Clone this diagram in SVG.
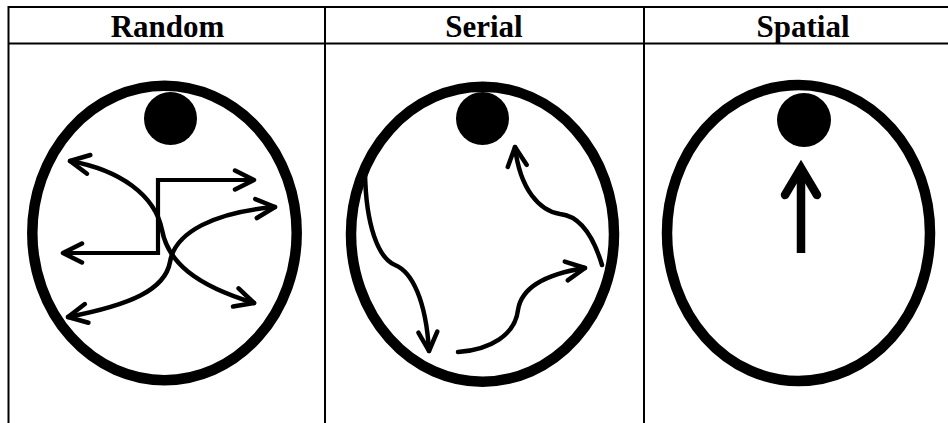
<svg xmlns="http://www.w3.org/2000/svg" width="948" height="423" viewBox="0 0 948 423">
  <style>
    .grid { stroke: #000; stroke-width: 2; fill: none; }
    .hdr { font-family: "Liberation Serif", "Times New Roman", serif; font-weight: bold; font-size: 31px; fill: #000; text-anchor: middle; }
    .head { fill: none; stroke: #000; stroke-width: 10.5; }
    .dot { fill: #000; }
    .arrow { fill: none; stroke: #000; stroke-width: 4.5; stroke-linecap: round; stroke-linejoin: round; }
    .step { fill: none; stroke: #000; stroke-width: 4.2; stroke-linejoin: miter; stroke-linecap: butt; }
    .chev { fill: none; stroke: #000; stroke-width: 4.5; stroke-linecap: round; stroke-linejoin: round; }
  </style>
  <defs>
    <marker id="chev" markerUnits="userSpaceOnUse" orient="auto-start-reverse" markerWidth="40" markerHeight="40" refX="0" refY="0" viewBox="-30 -20 40 40" overflow="visible">
      <path class="chev" d="M -19,-9.5 L 0,0 L -19,9.5"/>
    </marker>
  </defs>
  <rect width="948" height="423" fill="#fff"/>

  <g id="table">
    <line class="grid" x1="8" y1="7" x2="948" y2="7"/>
    <line class="grid" x1="8" y1="43.5" x2="948" y2="43.5"/>
    <line class="grid" x1="8.5" y1="6" x2="8.5" y2="423"/>
    <line class="grid" x1="325" y1="6" x2="325" y2="423"/>
    <line class="grid" x1="644" y1="6" x2="644" y2="423"/>
  </g>

  <g id="random">
    <text class="hdr" x="167.5" y="36.5">Random</text>
    <ellipse class="head" cx="164.5" cy="233" rx="132.2" ry="147.2"/>
    <circle class="dot" cx="170.5" cy="118.5" r="26.5"/>
  </g>

  <g id="serial">
    <text class="hdr" x="484" y="36.5">Serial</text>
    <ellipse class="head" cx="482.5" cy="234.2" rx="131.5" ry="147.5"/>
    <circle class="dot" cx="482.5" cy="118.5" r="26.5"/>
  </g>

  <g id="spatial">
    <text class="hdr" x="803" y="36.5">Spatial</text>
    <ellipse class="head" cx="798.5" cy="233" rx="131.5" ry="148"/>
    <circle class="dot" cx="804" cy="120" r="27"/>
  </g>

  <g id="connectors">
    <!-- Random -->
    <path class="arrow" d="M70,161 C120,170 155,195 162,230 C168,262 195,285 254,303" marker-start="url(#chev)" marker-end="url(#chev)"/>
    <path class="arrow" d="M68,317 C130,305 165,290 170,262 C175,232 215,212 275,207" marker-start="url(#chev)" marker-end="url(#chev)"/>
    <path class="step" d="M63,253 L158,253 L158,180 L254,180" marker-start="url(#chev)" marker-end="url(#chev)"/>
    <!-- Serial -->
    <path class="arrow" d="M365,173 C366,225 378,258 395,265 C412,272 426,300 429,351" marker-end="url(#chev)"/>
    <path class="arrow" d="M458,352 C490,350 515,335 518,310 C521,290 540,275 585,268" marker-end="url(#chev)"/>
    <path class="arrow" d="M602,265 C593,235 580,216 560,214 C540,211 520,190 515,147" marker-end="url(#chev)"/>
    <!-- Spatial -->
    <line x1="801" y1="253" x2="801" y2="170" stroke="#000" stroke-width="8.5"/>
    <path d="M785,195 L801,168 L817,195" fill="none" stroke="#000" stroke-width="8.5" stroke-linecap="round" stroke-linejoin="miter"/>
  </g>
</svg>
